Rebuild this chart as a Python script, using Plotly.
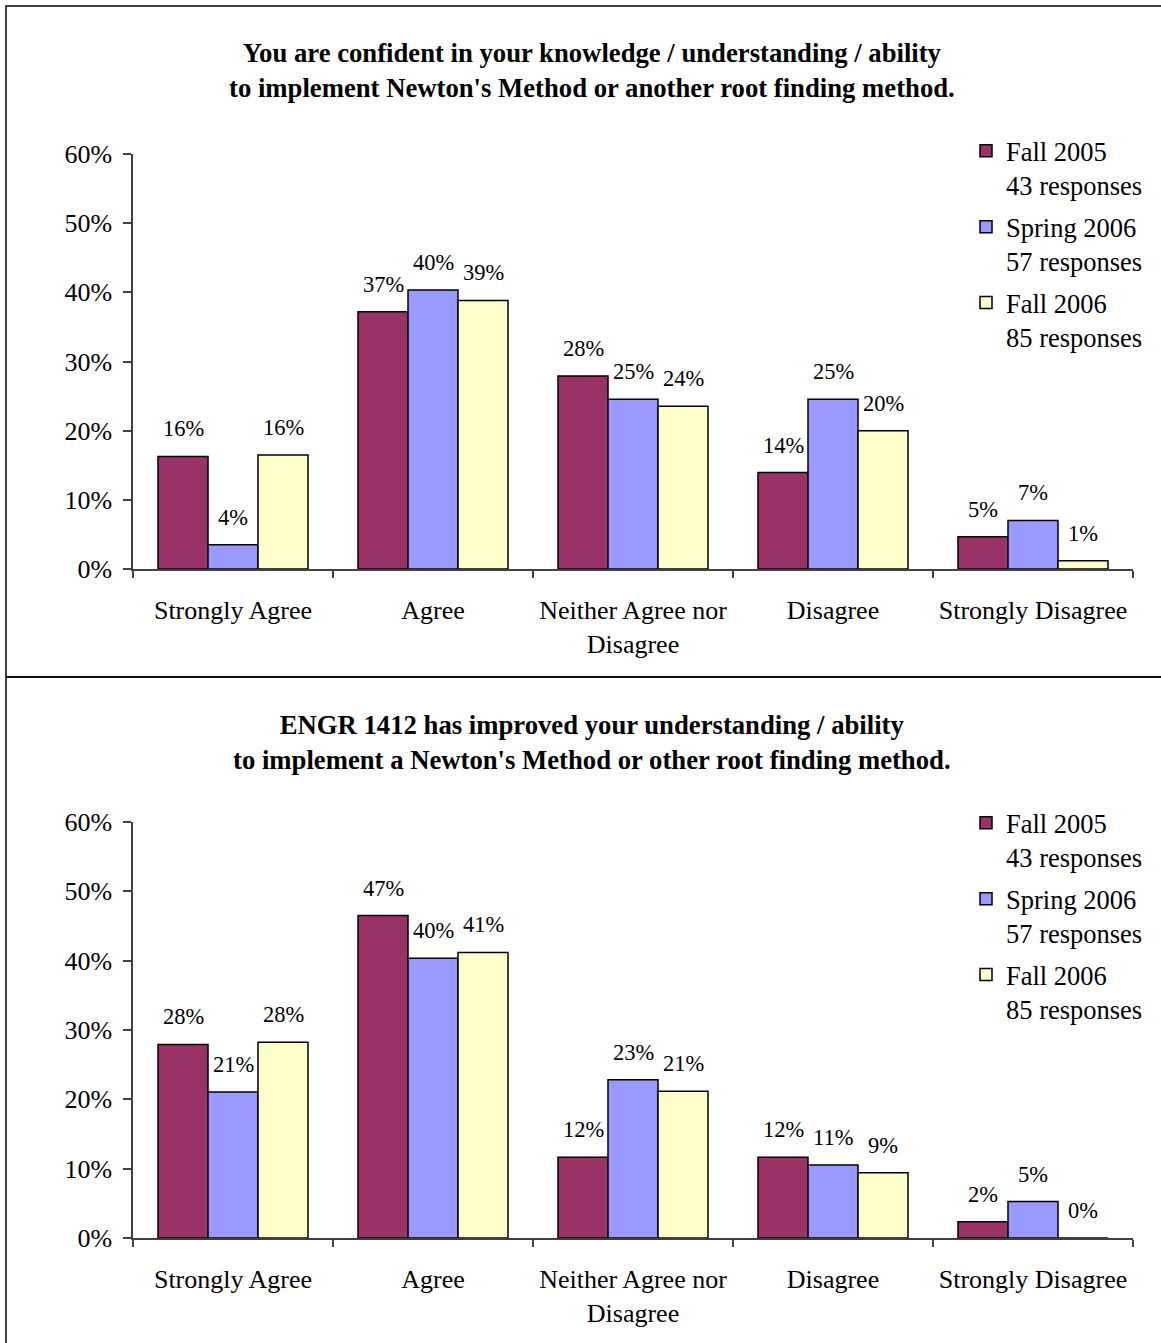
import plotly.graph_objects as go

# Survey categories and series (percent of responses)
categories = ["Strongly Agree", "Agree", "Neither Agree nor<br>Disagree",
              "Disagree", "Strongly Disagree"]
series_names = ["Fall 2005<br>43 responses", "Spring 2006<br>57 responses",
                "Fall 2006<br>85 responses"]
series_colors = ["#993366", "#9999FF", "#FFFFCC"]

# Chart 1: confidence in implementing a root finding method
conf_fall2005 = [16.28, 37.21, 27.91, 13.95, 4.65]
conf_spring2006 = [3.51, 40.35, 24.56, 24.56, 7.02]
conf_fall2006 = [16.47, 38.82, 23.53, 20.00, 1.18]

# Chart 2: course improved understanding
impr_fall2005 = [27.91, 46.51, 11.63, 11.63, 2.33]
impr_spring2006 = [21.05, 40.35, 22.81, 10.53, 5.26]
impr_fall2006 = [28.24, 41.18, 21.18, 9.41, 0.0]

y_ticks = [0, 10, 20, 30, 40, 50, 60]

title1 = ("You are confident in your knowledge / understanding / ability<br>"
          "to implement Newton's Method or another root finding method.")
title2 = ("ENGR 1412 has improved your understanding / ability<br>"
          "to implement a Newton's Method or other root finding method.")

W, H = 1161, 1343
SERIF = "Liberation Serif, Times New Roman, serif"
BARGAP = 0.25
X0, X1 = 133, 1133


def py(p):
    return 1 - p / H


def pct_label(v):
    # round half up, as spreadsheet labels do
    return f"{int(v + 0.5)}%"


fig = go.Figure()

panels = [
    dict(data=[conf_fall2005, conf_spring2006, conf_fall2006], xa="x", ya="y",
         legend="legend", title=title1, title_y=71, top=154, bottom=569,
         legend_top=127),
    dict(data=[impr_fall2005, impr_spring2006, impr_fall2006], xa="x2", ya="y2",
         legend="legend2", title=title2, title_y=742, top=822, bottom=1238,
         legend_top=799),
]

bar_px = (X1 - X0) / len(categories) * (1 - BARGAP) / len(series_names)
annotations = []

for pi, p in enumerate(panels):
    for si, vals in enumerate(p["data"]):
        fig.add_trace(go.Bar(
            x=categories, y=vals, name=series_names[si],
            marker=dict(color=series_colors[si], line=dict(color="#000000", width=1.5)),
            xaxis=p["xa"], yaxis=p["ya"], legend=p["legend"],
            legendgroup=f"p{pi}s{si}", hoverinfo="x+y",
        ))
        for cat, v in zip(categories, vals):
            annotations.append(dict(
                x=cat, y=v, xref=p["xa"], yref=p["ya"],
                text=pct_label(v), showarrow=False,
                xshift=(si - 1) * bar_px, yshift=13, yanchor="bottom",
                font=dict(family=SERIF, size=22.5, color="#000000"),
            ))
    annotations.append(dict(
        x=592 / W, y=py(p["title_y"]), xref="paper", yref="paper",
        text=f"<b>{p['title']}</b>", showarrow=False, yanchor="middle",
        font=dict(family=SERIF, size=26.7, color="#000000"),
    ))

axis_common = dict(showgrid=False, zeroline=False, showline=True,
                   linecolor="#404040", linewidth=1.5, ticks="outside",
                   tickcolor="#404040", tickwidth=1.5, automargin=False,
                   tickfont=dict(family=SERIF, size=26, color="#000000"))

layout_axes = {}
for pi, p in enumerate(panels):
    sfx = "" if pi == 0 else str(pi + 1)
    layout_axes[f"xaxis{sfx}"] = dict(
        axis_common, domain=[X0 / W, X1 / W], anchor=f"y{sfx}",
        type="category", tickson="boundaries", ticklen=7,
        ticklabelstandoff=17, fixedrange=True)
    layout_axes[f"yaxis{sfx}"] = dict(
        axis_common, domain=[py(p["bottom"]), py(p["top"])], anchor=f"x{sfx}",
        range=[0, 60], tickvals=y_ticks, ticktext=[f"{t}%" for t in y_ticks],
        ticklen=8, ticklabelstandoff=6, fixedrange=True)

legend_common = dict(font=dict(family=SERIF, size=26.5, color="#000000"),
                     valign="top", tracegroupgap=4, itemclick=False,
                     bgcolor="rgba(0,0,0,0)", xanchor="left", yanchor="top",
                     x=966 / W)

# Panel frames
shapes = [
    dict(type="rect", xref="paper", yref="paper", x0=6 / W, x1=1170 / W,
         y0=py(677), y1=py(6), line=dict(color="#000000", width=1.5)),
    dict(type="rect", xref="paper", yref="paper", x0=6 / W, x1=1170 / W,
         y0=py(1350), y1=py(677), line=dict(color="#000000", width=1.5)),
]

fig.update_layout(
    width=W, height=H, margin=dict(l=0, r=0, t=0, b=0, autoexpand=False),
    paper_bgcolor="#FFFFFF", plot_bgcolor="#FFFFFF",
    barmode="group", bargap=BARGAP, bargroupgap=0,
    showlegend=True,
    legend=dict(legend_common, y=py(panels[0]["legend_top"])),
    legend2=dict(legend_common, y=py(panels[1]["legend_top"])),
    annotations=annotations, shapes=shapes,
    **layout_axes,
)

fig.write_html("out.html")
